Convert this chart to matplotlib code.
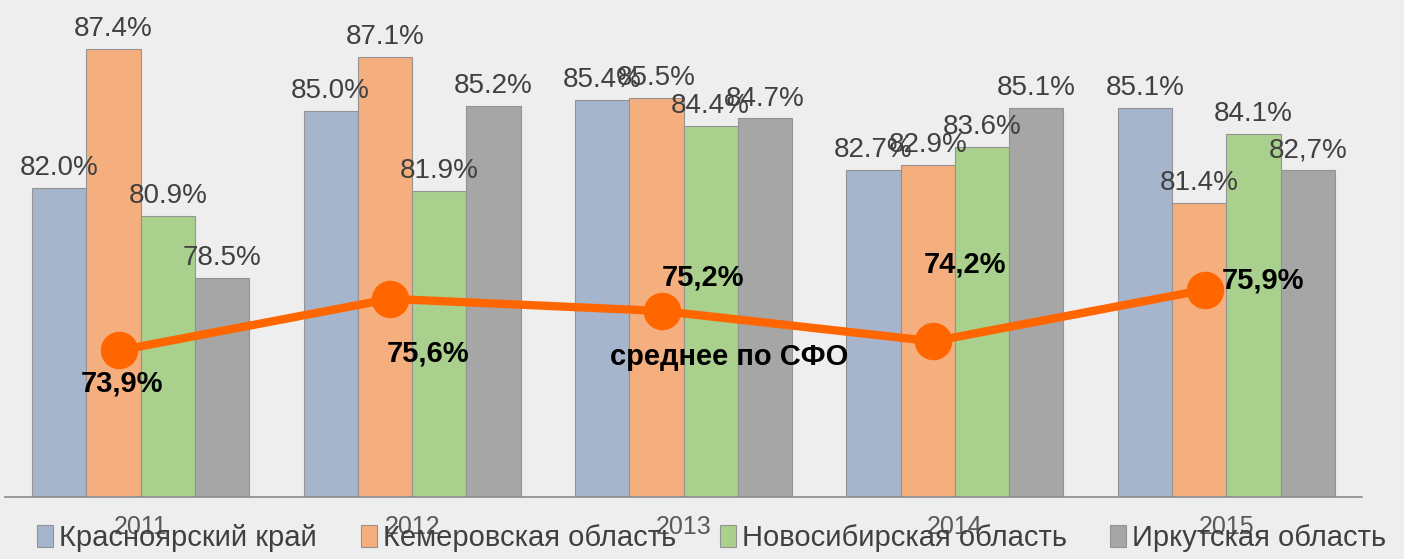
import numpy as np
import matplotlib.pyplot as plt

years = ['2011', '2012', '2013', '2014', '2015']
regions = ['Красноярский край', 'Кемеровская область',
           'Новосибирская область', 'Иркутская область']
krasnoyarsk = [82.0, 85.0, 85.4, 82.7, 85.1]
kemerovo = [87.4, 87.1, 85.5, 82.9, 81.4]
novosibirsk = [80.9, 81.9, 84.4, 83.6, 84.1]
irkutsk = [78.5, 85.2, 84.7, 85.1, 82.7]
sfo_avg = [73.9, 75.6, 75.2, 74.2, 75.9]
sfo_label = 'среднее по СФО'

colors = ['#a7b5cc', '#f5ae7e', '#a9d08c', '#a6a6a6']
series = [krasnoyarsk, kemerovo, novosibirsk, irkutsk]

fig = plt.figure(figsize=(14.04, 5.59), dpi=100, facecolor='#eeeeee')
ax = fig.add_axes([5 / 1404, 62 / 559, 1357 / 1404, 497 / 559])
ax.set_facecolor('none')

x = np.arange(len(years))
w = 0.2
for i, (vals, c, name) in enumerate(zip(series, colors, regions)):
    pos = x + (i - 1.5) * w
    ax.bar(pos, vals, width=w, color=c, edgecolor='#939393', linewidth=0.8,
           label=name, zorder=2)
    for xp, v in zip(pos, vals):
        txt = f'{v:.1f}%'
        if name == 'Иркутская область' and xp > 4:
            txt = txt.replace('.', ',')
        ax.annotate(txt, (xp, v), xytext=(0, 5), textcoords='offset points',
                    ha='center', va='bottom', fontsize=20, color='#404040',
                    family='Liberation Sans', zorder=3)

ax.set_xlim(-0.5, len(years) - 0.5)
ax.set_ylim(70, 89.3)
ax.set_xticks(x)
ax.set_xticklabels(years, fontsize=18, color='#595959', family='Liberation Sans')
ax.tick_params(axis='x', length=0, pad=13)
ax.set_yticks([])
for s in ['top', 'left', 'right']:
    ax.spines[s].set_visible(False)
ax.spines['bottom'].set_color('#8c8c8c')
ax.spines['bottom'].set_linewidth(1.2)

# overlay: average for the Siberian federal district
ax2 = ax.twinx()
ax2.set_ylim(69.07, 85.45)
ax2.axis('off')
lx = x - 0.08
ax2.plot(lx, sfo_avg, color='#ff6600', lw=6, marker='o', markersize=26,
         zorder=5)
offs = [(2, -24), (27, -39), (30, 24), (23, 55), (42, 7)]
for xp, v, o in zip(lx, sfo_avg, offs):
    ax2.annotate(f'{v:.1f}%'.replace('.', ','), (xp, v), xytext=o,
                 textcoords='offset points', ha='center', va='center',
                 fontsize=21, fontweight='bold', color='black',
                 family='Liberation Sans', zorder=6)
ax2.text(2.17, 73.67, sfo_label, ha='center', va='center', fontsize=21,
         fontweight='bold', color='black', family='Liberation Sans')

fig.legend(loc='lower center', bbox_to_anchor=(0.507, -0.035), ncol=4,
           frameon=False, handlelength=0.55, handleheight=0.75,
           handletextpad=0.2, columnspacing=1.5,
           prop={'family': 'Liberation Sans', 'size': 21},
           labelcolor='#404040')

plt.savefig('out.png', dpi=100, facecolor=fig.get_facecolor())
plt.close()
